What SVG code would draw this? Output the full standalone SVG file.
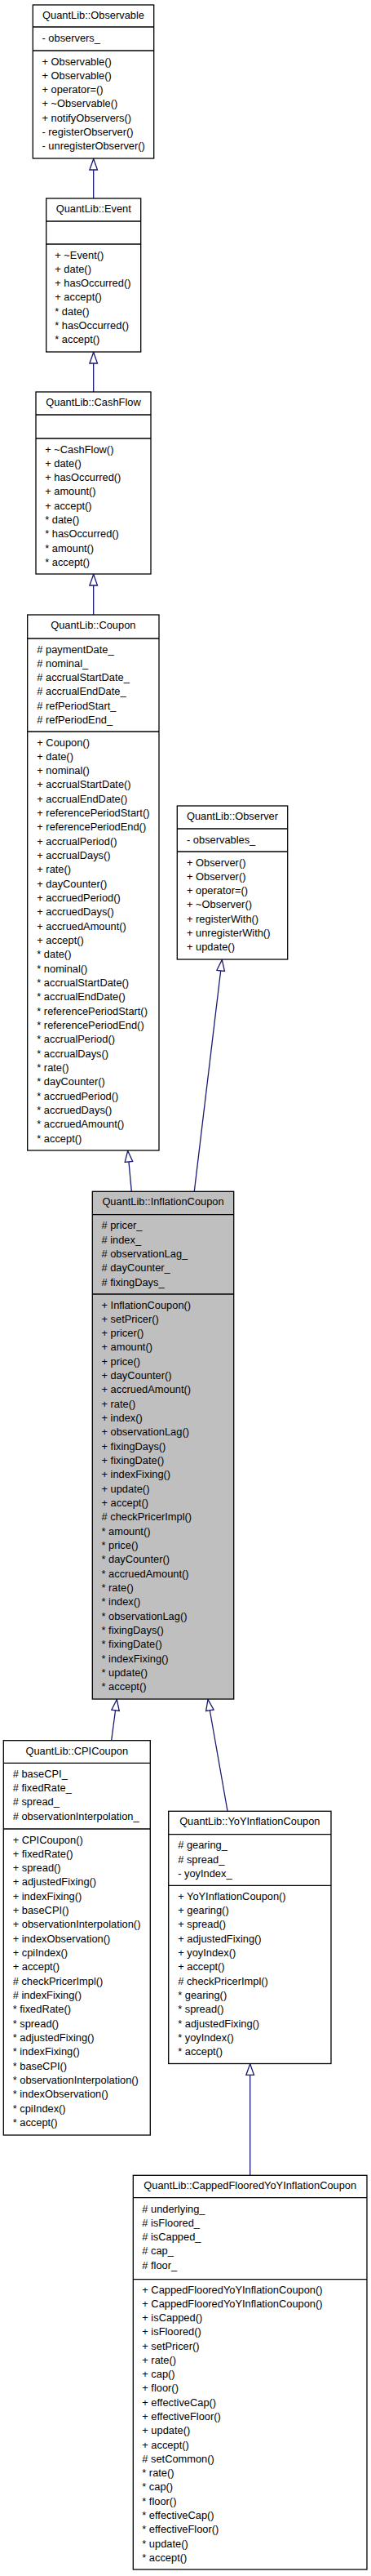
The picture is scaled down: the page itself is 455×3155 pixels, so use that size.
<svg xmlns="http://www.w3.org/2000/svg" width="455" height="3155" viewBox="0 0 455 3155">
<style>
text{font-family:"Liberation Sans",Arial,Helvetica,sans-serif;font-size:12.85px;fill:#000}
.c{text-anchor:middle}
.b{fill:#fff;stroke:#000;stroke-width:1.3}
.g{fill:#bfbfbf;stroke:#000;stroke-width:1.3}
.s{stroke:#000;stroke-width:1.3}
.e{fill:none;stroke:#191970;stroke-width:1.3;marker-end:url(#tri)}
</style>
<defs>
<marker id="tri" markerUnits="userSpaceOnUse" viewBox="0 0 16 12" markerWidth="16" markerHeight="12" refX="14.5" refY="6" orient="auto">
<path d="M1,1.2 L14.5,6 L1,10.8 Z" fill="#fff" stroke="#191970" stroke-width="1.3"/>
</marker>
</defs>
<rect width="455" height="3155" fill="#fff"/>
<g id="connectors">
<line class="e" x1="114.7" y1="243" x2="114.7" y2="194.5"/>
<line class="e" x1="114.7" y1="480" x2="114.7" y2="431.5"/>
<line class="e" x1="114.7" y1="753" x2="114.7" y2="703.5"/>
<line class="e" x1="161.3" y1="1459" x2="156.7" y2="1409.5"/>
<line class="e" x1="238.3" y1="1459" x2="272.3" y2="1175.5"/>
<line class="e" x1="136.7" y1="2131.5" x2="143.3" y2="2081.5"/>
<line class="e" x1="279" y1="2218" x2="255" y2="2081.5"/>
<line class="e" x1="306.7" y1="2664" x2="306.7" y2="2527.8"/>
</g>
<g id="Observable">
<rect class="b" x="40.3" y="6" width="148.4" height="188"/>
<line class="s" x1="40.3" y1="33" x2="188.7" y2="33"/>
<line class="s" x1="40.3" y1="62" x2="188.7" y2="62"/>
<text class="c" x="114.5" y="23">QuantLib::Observable</text>
<text x="51.5" y="51">- observers_</text>
<text x="51.5" y="79.5"><tspan x="51.5" y="79.5">+ Observable()</tspan><tspan x="51.5" dy="17.33">+ Observable()</tspan><tspan x="51.5" dy="17.33">+ operator=()</tspan><tspan x="51.5" dy="17.33">+ ~Observable()</tspan><tspan x="51.5" dy="17.33">+ notifyObservers()</tspan><tspan x="51.5" dy="17.33">- registerObserver()</tspan><tspan x="51.5" dy="17.33">- unregisterObserver()</tspan></text>
</g>
<g id="Event">
<rect class="b" x="56.7" y="243" width="116" height="188"/>
<line class="s" x1="56.7" y1="271" x2="172.7" y2="271"/>
<line class="s" x1="56.7" y1="299" x2="172.7" y2="299"/>
<text class="c" x="114.7" y="260">QuantLib::Event</text>
<text x="67.3" y="316.5"><tspan x="67.3" y="316.5">+ ~Event()</tspan><tspan x="67.3" dy="17.33">+ date()</tspan><tspan x="67.3" dy="17.33">+ hasOccurred()</tspan><tspan x="67.3" dy="17.33">+ accept()</tspan><tspan x="67.3" dy="17.33">* date()</tspan><tspan x="67.3" dy="17.33">* hasOccurred()</tspan><tspan x="67.3" dy="17.33">* accept()</tspan></text>
</g>
<g id="CashFlow">
<rect class="b" x="44" y="480" width="141" height="223"/>
<line class="s" x1="44" y1="508" x2="185" y2="508"/>
<line class="s" x1="44" y1="537" x2="185" y2="537"/>
<text class="c" x="114.5" y="497">QuantLib::CashFlow</text>
<text x="55.2" y="554.5"><tspan x="55.2" y="554.5">+ ~CashFlow()</tspan><tspan x="55.2" dy="17.33">+ date()</tspan><tspan x="55.2" dy="17.33">+ hasOccurred()</tspan><tspan x="55.2" dy="17.33">+ amount()</tspan><tspan x="55.2" dy="17.33">+ accept()</tspan><tspan x="55.2" dy="17.33">* date()</tspan><tspan x="55.2" dy="17.33">* hasOccurred()</tspan><tspan x="55.2" dy="17.33">* amount()</tspan><tspan x="55.2" dy="17.33">* accept()</tspan></text>
</g>
<g id="Coupon">
<rect class="b" x="33.7" y="753" width="161.3" height="656"/>
<line class="s" x1="33.7" y1="782" x2="195" y2="782"/>
<line class="s" x1="33.7" y1="896" x2="195" y2="896"/>
<text class="c" x="114.3" y="770">QuantLib::Coupon</text>
<text x="45.3" y="799.5"><tspan x="45.3" y="799.5"># paymentDate_</tspan><tspan x="45.3" dy="17.33"># nominal_</tspan><tspan x="45.3" dy="17.33"># accrualStartDate_</tspan><tspan x="45.3" dy="17.33"># accrualEndDate_</tspan><tspan x="45.3" dy="17.33"># refPeriodStart_</tspan><tspan x="45.3" dy="17.33"># refPeriodEnd_</tspan></text>
<text x="45.3" y="913.5"><tspan x="45.3" y="913.5">+ Coupon()</tspan><tspan x="45.3" dy="17.33">+ date()</tspan><tspan x="45.3" dy="17.33">+ nominal()</tspan><tspan x="45.3" dy="17.33">+ accrualStartDate()</tspan><tspan x="45.3" dy="17.33">+ accrualEndDate()</tspan><tspan x="45.3" dy="17.33">+ referencePeriodStart()</tspan><tspan x="45.3" dy="17.33">+ referencePeriodEnd()</tspan><tspan x="45.3" dy="17.33">+ accrualPeriod()</tspan><tspan x="45.3" dy="17.33">+ accrualDays()</tspan><tspan x="45.3" dy="17.33">+ rate()</tspan><tspan x="45.3" dy="17.33">+ dayCounter()</tspan><tspan x="45.3" dy="17.33">+ accruedPeriod()</tspan><tspan x="45.3" dy="17.33">+ accruedDays()</tspan><tspan x="45.3" dy="17.33">+ accruedAmount()</tspan><tspan x="45.3" dy="17.33">+ accept()</tspan><tspan x="45.3" dy="17.33">* date()</tspan><tspan x="45.3" dy="17.33">* nominal()</tspan><tspan x="45.3" dy="17.33">* accrualStartDate()</tspan><tspan x="45.3" dy="17.33">* accrualEndDate()</tspan><tspan x="45.3" dy="17.33">* referencePeriodStart()</tspan><tspan x="45.3" dy="17.33">* referencePeriodEnd()</tspan><tspan x="45.3" dy="17.33">* accrualPeriod()</tspan><tspan x="45.3" dy="17.33">* accrualDays()</tspan><tspan x="45.3" dy="17.33">* rate()</tspan><tspan x="45.3" dy="17.33">* dayCounter()</tspan><tspan x="45.3" dy="17.33">* accruedPeriod()</tspan><tspan x="45.3" dy="17.33">* accruedDays()</tspan><tspan x="45.3" dy="17.33">* accruedAmount()</tspan><tspan x="45.3" dy="17.33">* accept()</tspan></text>
</g>
<g id="Observer">
<rect class="b" x="217.3" y="987" width="135.4" height="188"/>
<line class="s" x1="217.3" y1="1015" x2="352.7" y2="1015"/>
<line class="s" x1="217.3" y1="1043" x2="352.7" y2="1043"/>
<text class="c" x="285" y="1004">QuantLib::Observer</text>
<text x="229" y="1032.5">- observables_</text>
<text x="229" y="1060.5"><tspan x="229" y="1060.5">+ Observer()</tspan><tspan x="229" dy="17.33">+ Observer()</tspan><tspan x="229" dy="17.33">+ operator=()</tspan><tspan x="229" dy="17.33">+ ~Observer()</tspan><tspan x="229" dy="17.33">+ registerWith()</tspan><tspan x="229" dy="17.33">+ unregisterWith()</tspan><tspan x="229" dy="17.33">+ update()</tspan></text>
</g>
<g id="InflationCoupon">
<rect class="g" x="113.3" y="1459.3" width="173.4" height="621.7"/>
<line class="s" x1="113.3" y1="1487.7" x2="286.7" y2="1487.7"/>
<line class="s" x1="113.3" y1="1585" x2="286.7" y2="1585"/>
<text class="c" x="200" y="1476.3">QuantLib::InflationCoupon</text>
<text x="124.5" y="1505.2"><tspan x="124.5" y="1505.2"># pricer_</tspan><tspan x="124.5" dy="17.33"># index_</tspan><tspan x="124.5" dy="17.33"># observationLag_</tspan><tspan x="124.5" dy="17.33"># dayCounter_</tspan><tspan x="124.5" dy="17.33"># fixingDays_</tspan></text>
<text x="124.5" y="1602.5"><tspan x="124.5" y="1602.5">+ InflationCoupon()</tspan><tspan x="124.5" dy="17.33">+ setPricer()</tspan><tspan x="124.5" dy="17.33">+ pricer()</tspan><tspan x="124.5" dy="17.33">+ amount()</tspan><tspan x="124.5" dy="17.33">+ price()</tspan><tspan x="124.5" dy="17.33">+ dayCounter()</tspan><tspan x="124.5" dy="17.33">+ accruedAmount()</tspan><tspan x="124.5" dy="17.33">+ rate()</tspan><tspan x="124.5" dy="17.33">+ index()</tspan><tspan x="124.5" dy="17.33">+ observationLag()</tspan><tspan x="124.5" dy="17.33">+ fixingDays()</tspan><tspan x="124.5" dy="17.33">+ fixingDate()</tspan><tspan x="124.5" dy="17.33">+ indexFixing()</tspan><tspan x="124.5" dy="17.33">+ update()</tspan><tspan x="124.5" dy="17.33">+ accept()</tspan><tspan x="124.5" dy="17.33"># checkPricerImpl()</tspan><tspan x="124.5" dy="17.33">* amount()</tspan><tspan x="124.5" dy="17.33">* price()</tspan><tspan x="124.5" dy="17.33">* dayCounter()</tspan><tspan x="124.5" dy="17.33">* accruedAmount()</tspan><tspan x="124.5" dy="17.33">* rate()</tspan><tspan x="124.5" dy="17.33">* index()</tspan><tspan x="124.5" dy="17.33">* observationLag()</tspan><tspan x="124.5" dy="17.33">* fixingDays()</tspan><tspan x="124.5" dy="17.33">* fixingDate()</tspan><tspan x="124.5" dy="17.33">* indexFixing()</tspan><tspan x="124.5" dy="17.33">* update()</tspan><tspan x="124.5" dy="17.33">* accept()</tspan></text>
</g>
<g id="CPICoupon">
<rect class="b" x="4.3" y="2131.7" width="180" height="483.3"/>
<line class="s" x1="4.3" y1="2159.3" x2="184.3" y2="2159.3"/>
<line class="s" x1="4.3" y1="2240" x2="184.3" y2="2240"/>
<text class="c" x="94.3" y="2148.7">QuantLib::CPICoupon</text>
<text x="15.7" y="2176.8"><tspan x="15.7" y="2176.8"># baseCPI_</tspan><tspan x="15.7" dy="17.33"># fixedRate_</tspan><tspan x="15.7" dy="17.33"># spread_</tspan><tspan x="15.7" dy="17.33"># observationInterpolation_</tspan></text>
<text x="15.7" y="2257.5"><tspan x="15.7" y="2257.5">+ CPICoupon()</tspan><tspan x="15.7" dy="17.33">+ fixedRate()</tspan><tspan x="15.7" dy="17.33">+ spread()</tspan><tspan x="15.7" dy="17.33">+ adjustedFixing()</tspan><tspan x="15.7" dy="17.33">+ indexFixing()</tspan><tspan x="15.7" dy="17.33">+ baseCPI()</tspan><tspan x="15.7" dy="17.33">+ observationInterpolation()</tspan><tspan x="15.7" dy="17.33">+ indexObservation()</tspan><tspan x="15.7" dy="17.33">+ cpiIndex()</tspan><tspan x="15.7" dy="17.33">+ accept()</tspan><tspan x="15.7" dy="17.33"># checkPricerImpl()</tspan><tspan x="15.7" dy="17.33"># indexFixing()</tspan><tspan x="15.7" dy="17.33">* fixedRate()</tspan><tspan x="15.7" dy="17.33">* spread()</tspan><tspan x="15.7" dy="17.33">* adjustedFixing()</tspan><tspan x="15.7" dy="17.33">* indexFixing()</tspan><tspan x="15.7" dy="17.33">* baseCPI()</tspan><tspan x="15.7" dy="17.33">* observationInterpolation()</tspan><tspan x="15.7" dy="17.33">* indexObservation()</tspan><tspan x="15.7" dy="17.33">* cpiIndex()</tspan><tspan x="15.7" dy="17.33">* accept()</tspan></text>
</g>
<g id="YoYInflationCoupon">
<rect class="b" x="206.7" y="2218.3" width="199.3" height="309.2"/>
<line class="s" x1="206.7" y1="2246.7" x2="406" y2="2246.7"/>
<line class="s" x1="206.7" y1="2309.3" x2="406" y2="2309.3"/>
<text class="c" x="306.3" y="2235.3">QuantLib::YoYInflationCoupon</text>
<text x="218.2" y="2264.2"><tspan x="218.2" y="2264.2"># gearing_</tspan><tspan x="218.2" dy="17.33"># spread_</tspan><tspan x="218.2" dy="17.33">- yoyIndex_</tspan></text>
<text x="218.2" y="2326.8"><tspan x="218.2" y="2326.8">+ YoYInflationCoupon()</tspan><tspan x="218.2" dy="17.33">+ gearing()</tspan><tspan x="218.2" dy="17.33">+ spread()</tspan><tspan x="218.2" dy="17.33">+ adjustedFixing()</tspan><tspan x="218.2" dy="17.33">+ yoyIndex()</tspan><tspan x="218.2" dy="17.33">+ accept()</tspan><tspan x="218.2" dy="17.33"># checkPricerImpl()</tspan><tspan x="218.2" dy="17.33">* gearing()</tspan><tspan x="218.2" dy="17.33">* spread()</tspan><tspan x="218.2" dy="17.33">* adjustedFixing()</tspan><tspan x="218.2" dy="17.33">* yoyIndex()</tspan><tspan x="218.2" dy="17.33">* accept()</tspan></text>
</g>
<g id="CappedFlooredYoYInflationCoupon">
<rect class="b" x="163.3" y="2664.3" width="286.7" height="482.7"/>
<line class="s" x1="163.3" y1="2691.7" x2="450" y2="2691.7"/>
<line class="s" x1="163.3" y1="2791.7" x2="450" y2="2791.7"/>
<text class="c" x="306.7" y="2681.3">QuantLib::CappedFlooredYoYInflationCoupon</text>
<text x="174.3" y="2709.5"><tspan x="174.3" y="2709.5"># underlying_</tspan><tspan x="174.3" dy="17.33"># isFloored_</tspan><tspan x="174.3" dy="17.33"># isCapped_</tspan><tspan x="174.3" dy="17.33"># cap_</tspan><tspan x="174.3" dy="17.33"># floor_</tspan></text>
<text x="174.3" y="2808.5"><tspan x="174.3" y="2808.5">+ CappedFlooredYoYInflationCoupon()</tspan><tspan x="174.3" dy="17.28">+ CappedFlooredYoYInflationCoupon()</tspan><tspan x="174.3" dy="17.28">+ isCapped()</tspan><tspan x="174.3" dy="17.28">+ isFloored()</tspan><tspan x="174.3" dy="17.28">+ setPricer()</tspan><tspan x="174.3" dy="17.28">+ rate()</tspan><tspan x="174.3" dy="17.28">+ cap()</tspan><tspan x="174.3" dy="17.28">+ floor()</tspan><tspan x="174.3" dy="17.28">+ effectiveCap()</tspan><tspan x="174.3" dy="17.28">+ effectiveFloor()</tspan><tspan x="174.3" dy="17.28">+ update()</tspan><tspan x="174.3" dy="17.28">+ accept()</tspan><tspan x="174.3" dy="17.28"># setCommon()</tspan><tspan x="174.3" dy="17.28">* rate()</tspan><tspan x="174.3" dy="17.28">* cap()</tspan><tspan x="174.3" dy="17.28">* floor()</tspan><tspan x="174.3" dy="17.28">* effectiveCap()</tspan><tspan x="174.3" dy="17.28">* effectiveFloor()</tspan><tspan x="174.3" dy="17.28">* update()</tspan><tspan x="174.3" dy="17.28">* accept()</tspan></text>
</g>
</svg>
